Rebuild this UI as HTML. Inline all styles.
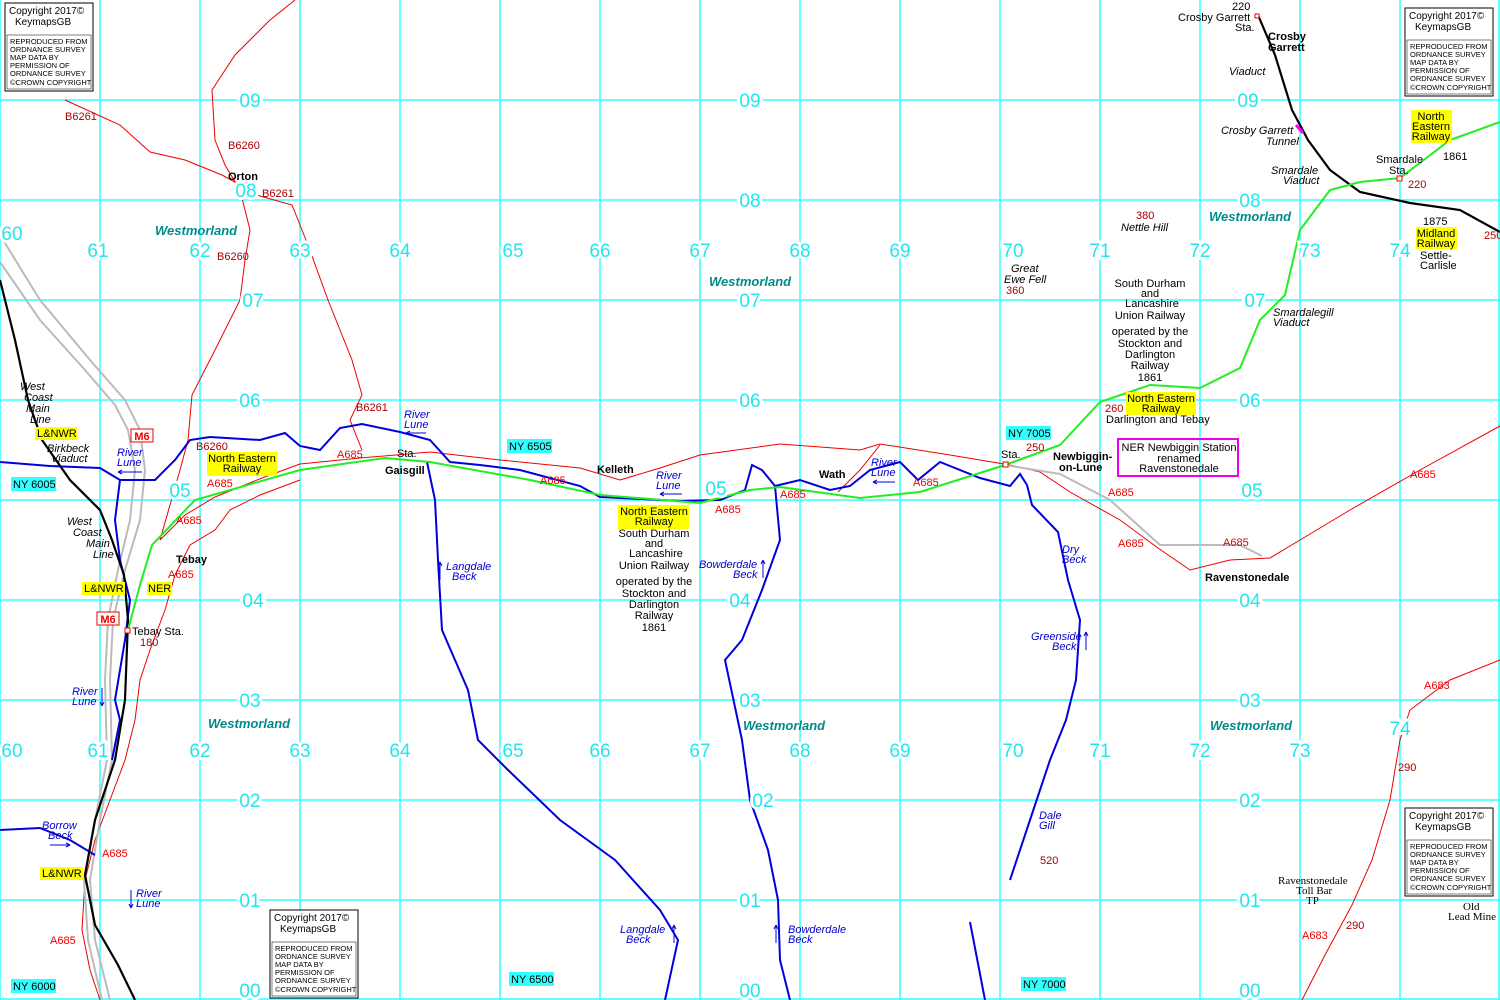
<!DOCTYPE html>
<html><head><meta charset="utf-8"><style>
html,body{margin:0;padding:0;background:#fff}
svg{display:block;font-family:"Liberation Sans",sans-serif}
.g{stroke:#33ffff;stroke-width:1.5}
.n{fill:#22e6ee;font-size:19px;paint-order:stroke;stroke:#fff;stroke-width:6px}
.r{fill:#e00;font-size:11px}
.dr{fill:#a00;font-size:11px}
.k{fill:#000;font-size:11px}
.b{fill:#000;font-size:11px;font-weight:bold}
.i{fill:#000;font-size:11px;font-style:italic}
.bl{fill:#0000cc;font-size:11px;font-style:italic}
.w{fill:#008b8b;font-size:13px;font-weight:bold;font-style:italic}
.ys{fill:#ffff00}
.cy{fill:#33ffff}
.c{font-size:10px;fill:#000}
.cs{font-size:7.5px;fill:#000}
</style></head><body>
<svg width="1500" height="1000" viewBox="0 0 1500 1000" xmlns="http://www.w3.org/2000/svg">
<rect width="1500" height="1000" fill="#fff"/>
<g class="g">
<line x1="0" y1="0" x2="0" y2="1000"/><line x1="100" y1="0" x2="100" y2="1000"/><line x1="200" y1="0" x2="200" y2="1000"/><line x1="300" y1="0" x2="300" y2="1000"/><line x1="400" y1="0" x2="400" y2="1000"/><line x1="500" y1="0" x2="500" y2="1000"/><line x1="600" y1="0" x2="600" y2="1000"/><line x1="700" y1="0" x2="700" y2="1000"/><line x1="800" y1="0" x2="800" y2="1000"/><line x1="900" y1="0" x2="900" y2="1000"/><line x1="1000" y1="0" x2="1000" y2="1000"/><line x1="1100" y1="0" x2="1100" y2="1000"/><line x1="1200" y1="0" x2="1200" y2="1000"/><line x1="1300" y1="0" x2="1300" y2="1000"/><line x1="1400" y1="0" x2="1400" y2="1000"/><line x1="1499" y1="0" x2="1499" y2="1000"/>
<line x1="0" y1="100" x2="1500" y2="100"/><line x1="0" y1="200" x2="1500" y2="200"/><line x1="0" y1="300" x2="1500" y2="300"/><line x1="0" y1="400" x2="1500" y2="400"/><line x1="0" y1="500" x2="1500" y2="500"/><line x1="0" y1="600" x2="1500" y2="600"/><line x1="0" y1="700" x2="1500" y2="700"/><line x1="0" y1="800" x2="1500" y2="800"/><line x1="0" y1="900" x2="1500" y2="900"/><line x1="0" y1="999" x2="1500" y2="999"/>
</g>
<!-- roads -->
<g fill="none" stroke="#e00" stroke-width="1">
<path d="M295,0 L270,20 L235,55 L212,90 L215,140 L225,165 L240,190 L250,230 L245,260 L240,300 L215,350 L192,395 L188,440 L180,470 L160,540"/>
<path d="M65,100 L120,125 L150,152 L185,160 L222,175 L260,196 L292,205 L308,245 L328,300 L352,360 L362,395 L350,420 L362,450"/>
<path d="M160,540 L185,515 L215,497 L262,478 L300,464 L360,458 L430,452 L500,460 L580,468 L620,480 L660,468 L700,455 L780,444 L860,450 L880,444 L950,455 L1010,465 L1040,472 L1070,492 L1120,520 L1158,548 L1190,570 L1230,560 L1270,558 L1300,540 L1350,510 L1420,470 L1500,426"/>
<path d="M300,480 L260,495 L230,510 L215,530 L190,545 L175,575 L165,610 L150,650 L140,680 L135,720 L125,760 L110,800 L95,840 L85,880 L82,930 L90,970 L100,1000"/>
<path d="M838,492 L860,470 L880,445"/>
<path d="M1500,660 L1450,680 L1410,710 L1400,740 L1390,800 L1372,860 L1352,905 L1325,955 L1302,1000"/>
</g>
<!-- old railway grey -->
<g fill="none" stroke="#bbb" stroke-width="2">
<path d="M0,235 L40,300 L90,360 L125,400 L140,430 L145,470 L140,520 L125,570 L113,620 L110,680 L112,760 L100,820 L90,880 L95,940 L110,1000"/>
<path d="M0,262 L40,320 L85,370 L115,405 L128,430 L135,470 L130,520 L118,570 L108,620 L105,680 L107,760 L95,820 L84,880 L88,940 L102,1000"/>
<path d="M1005,465 L1060,474 L1110,500 L1160,545 L1240,545 L1262,556"/>
</g>
<!-- rivers -->
<g fill="none" stroke="#0000dd" stroke-width="2">
<path d="M0,462 L50,466 L100,468 L120,480 L155,480 L175,460 L190,440 L210,437 L260,440 L285,433 L300,446 L320,450 L340,428 L362,424 L400,432 L430,440 L450,462 L480,465 L520,470 L580,486 L600,497 L680,501 L720,500 L745,490 L752,465 L762,470 L775,486 L800,480 L830,490 L850,486 L870,470 L900,462 L918,480 L940,462 L980,478 L1010,486 L1020,474 L1027,485"/>
<path d="M120,480 L115,520 L120,560 L130,600 L125,640 L115,700 L120,720 L112,760"/>
<path d="M427,462 L435,500 L438,560 L442,630 L468,690 L478,740 L508,770 L560,820 L615,860 L660,910 L678,940 L665,1000"/>
<path d="M775,486 L780,540 L762,590 L742,640 L725,660 L742,740 L750,800 L768,850 L778,900 L780,960 L790,1000"/>
<path d="M1027,485 L1032,505 L1058,532 L1068,580 L1080,620 L1076,680 L1066,720 L1050,760 L1030,820 L1010,880"/>
<path d="M970,922 L985,1000"/>
<path d="M0,830 L40,828 L70,840 L95,855"/>
</g>
<!-- railways -->
<g fill="none" stroke="#000" stroke-width="2.2">
<path d="M0,280 L15,340 L28,400 L42,440 L70,480 L100,510 L112,540 L124,575 L128,620 L125,700 L115,760 L95,820 L85,875 L95,925 L118,965 L135,1000"/>
<path d="M1258,15 L1275,55 L1292,110 L1308,140 L1330,170 L1360,192 L1410,203 L1460,210 L1500,232"/>
</g>
<path d="M128,630 L140,585 L152,545 L195,500 L300,470 L385,458 L430,462 L530,480 L600,495 L700,503 L750,490 L780,487 L860,498 L920,492 L1005,465 L1060,445 L1100,402 L1150,385 L1200,388 L1240,368 L1260,320 L1285,295 L1300,230 L1330,190 L1360,182 L1400,178 L1450,140 L1500,122" fill="none" stroke="#22ee22" stroke-width="2"/>
<line x1="1296" y1="125" x2="1303" y2="133" stroke="#f0f" stroke-width="3"/>
<rect x="125" y="628" width="5" height="5" fill="#fff" stroke="#e00"/>
<rect x="1003" y="462" width="5" height="5" fill="#fff" stroke="#e00"/>
<rect x="1397" y="176" width="5" height="5" fill="#fff" stroke="#e00"/>
<rect x="1255" y="14" width="4" height="4" fill="#fff" stroke="#e00"/>
<!-- grid numbers -->
<g class="n" text-anchor="middle">
<text x="250" y="107">09</text><text x="750" y="107">09</text><text x="1248" y="107">09</text>
<text x="246" y="197">08</text><text x="750" y="207">08</text><text x="1250" y="207">08</text>
<text x="253" y="307">07</text><text x="750" y="307">07</text><text x="1255" y="307">07</text>
<text x="250" y="407">06</text><text x="750" y="407">06</text><text x="1250" y="407">06</text>
<text x="180" y="497">05</text><text x="716" y="495">05</text><text x="1252" y="497">05</text>
<text x="253" y="607">04</text><text x="740" y="607">04</text><text x="1250" y="607">04</text>
<text x="250" y="707">03</text><text x="750" y="707">03</text><text x="1250" y="707">03</text>
<text x="250" y="807">02</text><text x="763" y="807">02</text><text x="1250" y="807">02</text>
<text x="250" y="907">01</text><text x="750" y="907">01</text><text x="1250" y="907">01</text>
<text x="250" y="997">00</text><text x="750" y="997">00</text><text x="1250" y="997">00</text>
<text x="12" y="240">60</text><text x="98" y="257">61</text><text x="200" y="257">62</text><text x="300" y="257">63</text><text x="400" y="257">64</text><text x="513" y="257">65</text><text x="600" y="257">66</text><text x="700" y="257">67</text><text x="800" y="257">68</text><text x="900" y="257">69</text><text x="1013" y="257">70</text><text x="1100" y="257">71</text><text x="1200" y="257">72</text><text x="1310" y="257">73</text><text x="1400" y="257">74</text>
<text x="12" y="757">60</text><text x="98" y="757">61</text><text x="200" y="757">62</text><text x="300" y="757">63</text><text x="400" y="757">64</text><text x="513" y="757">65</text><text x="600" y="757">66</text><text x="700" y="757">67</text><text x="800" y="757">68</text><text x="900" y="757">69</text><text x="1013" y="757">70</text><text x="1100" y="757">71</text><text x="1200" y="757">72</text><text x="1300" y="757">73</text><text x="1400" y="735">74</text>
</g>
<!-- NY boxes -->
<rect x="11" y="477" width="45" height="14" class="cy"/><text x="13" y="488" class="k">NY 6005</text>
<rect x="507" y="439" width="45" height="14" class="cy"/><text x="509" y="450" class="k">NY 6505</text>
<rect x="1006" y="426" width="45" height="14" class="cy"/><text x="1008" y="437" class="k">NY 7005</text>
<rect x="11" y="979" width="45" height="14" class="cy"/><text x="13" y="990" class="k">NY 6000</text>
<rect x="509" y="972" width="45" height="14" class="cy"/><text x="511" y="983" class="k">NY 6500</text>
<rect x="1021" y="977" width="45" height="14" class="cy"/><text x="1023" y="988" class="k">NY 7000</text>
<!-- yellow labels -->
<rect x="35" y="427" width="42" height="13" class="ys"/><text x="37" y="437" class="k">L&amp;NWR</text>
<rect x="207" y="452" width="70" height="24" class="ys"/><text x="242" y="462" class="k" text-anchor="middle">North Eastern</text><text x="242" y="472" class="k" text-anchor="middle">Railway</text>
<rect x="82" y="582" width="43" height="13" class="ys"/><text x="84" y="592" class="k">L&amp;NWR</text>
<rect x="147" y="582" width="25" height="13" class="ys"/><text x="148" y="592" class="k">NER</text>
<rect x="40" y="867" width="43" height="13" class="ys"/><text x="42" y="877" class="k">L&amp;NWR</text>
<rect x="618" y="505" width="71" height="24" class="ys"/><text x="654" y="515" class="k" text-anchor="middle">North Eastern</text><text x="654" y="525" class="k" text-anchor="middle">Railway</text>
<rect x="1126" y="392" width="70" height="23" class="ys"/><text x="1161" y="402" class="k" text-anchor="middle">North Eastern</text><text x="1161" y="412" class="k" text-anchor="middle">Railway</text>
<rect x="1411" y="110" width="41" height="33" class="ys"/><text x="1431" y="120" class="k" text-anchor="middle">North</text><text x="1431" y="130" class="k" text-anchor="middle">Eastern</text><text x="1431" y="140" class="k" text-anchor="middle">Railway</text>
<rect x="1416" y="227" width="41" height="22" class="ys"/><text x="1436" y="237" class="k" text-anchor="middle">Midland</text><text x="1436" y="247" class="k" text-anchor="middle">Railway</text>
<!-- M6 -->
<rect x="131" y="429" width="22" height="13" fill="#fff" stroke="#e00"/><text x="142" y="440" font-size="11" font-weight="bold" fill="#e00" text-anchor="middle">M6</text>
<rect x="97" y="612" width="22" height="13" fill="#fff" stroke="#e00"/><text x="108" y="623" font-size="11" font-weight="bold" fill="#e00" text-anchor="middle">M6</text>
<!-- road labels -->
<text x="65" y="120" class="dr">B6261</text><text x="228" y="149" class="dr">B6260</text><text x="262" y="197" class="dr">B6261</text><text x="217" y="260" class="dr">B6260</text>
<text x="356" y="411" class="dr">B6261</text><text x="196" y="450" class="dr">B6260</text>
<text x="207" y="487" class="r">A685</text><text x="176" y="524" class="r">A685</text><text x="168" y="578" class="r">A685</text>
<text x="337" y="458" class="r">A685</text><text x="540" y="484" class="r">A685</text><text x="715" y="513" class="r">A685</text><text x="780" y="498" class="r">A685</text><text x="913" y="486" class="r">A685</text>
<text x="1108" y="496" class="r">A685</text><text x="1118" y="547" class="r">A685</text><text x="1223" y="546" class="r">A685</text><text x="1410" y="478" class="r">A685</text>
<text x="1424" y="689" class="r">A683</text><text x="1302" y="939" class="r">A683</text><text x="102" y="857" class="r">A685</text><text x="50" y="944" class="r">A685</text>
<text x="1484" y="239" class="dr">250</text>
<!-- place labels -->
<text x="228" y="180" class="b">Orton</text><text x="176" y="563" class="b">Tebay</text><text x="385" y="474" class="b">Gaisgill</text><text x="597" y="473" class="b">Kelleth</text><text x="819" y="478" class="b">Wath</text>
<text x="1053" y="460" class="b">Newbiggin-</text><text x="1059" y="471" class="b">on-Lune</text>
<text x="1205" y="581" class="b">Ravenstonedale</text>
<text x="1268" y="40" class="b">Crosby</text><text x="1268" y="51" class="b">Garrett</text>
<text x="397" y="457" class="k">Sta.</text><text x="1001" y="458" class="k">Sta.</text>
<text x="132" y="635" class="k">Tebay Sta.</text><text x="140" y="646" class="dr">180</text>
<text x="1026" y="451" class="dr">250</text><text x="1105" y="412" class="dr">260</text>
<text x="1106" y="423" class="k">Darlington and Tebay</text>
<text x="1232" y="10" class="k">220</text><text x="1178" y="21" class="k">Crosby Garrett</text><text x="1235" y="31" class="k">Sta.</text>
<text x="1376" y="163" class="k">Smardale</text><text x="1389" y="174" class="k">Sta.</text><text x="1408" y="188" class="dr">220</text>
<text x="1443" y="160" class="k">1861</text><text x="1423" y="225" class="k">1875</text><text x="1420" y="259" class="k">Settle-</text><text x="1420" y="269" class="k">Carlisle</text>
<text x="1136" y="219" class="dr">380</text><text x="1121" y="231" class="i">Nettle Hill</text>
<text x="1011" y="272" class="i">Great</text><text x="1004" y="283" class="i">Ewe Fell</text><text x="1006" y="294" class="dr">360</text>
<text x="1040" y="864" class="dr">520</text><text x="1346" y="929" class="dr">290</text><text x="1398" y="771" class="dr">290</text>
<text x="1278" y="884" class="k" font-family="Liberation Serif">Ravenstonedale</text><text x="1296" y="894" class="k" font-family="Liberation Serif">Toll Bar</text><text x="1306" y="904" class="k" font-family="Liberation Serif">TP</text>
<text x="1463" y="910" class="k" font-family="Liberation Serif">Old</text><text x="1448" y="920" class="k" font-family="Liberation Serif">Lead Mine</text>
<g text-anchor="middle" class="k">
<text x="1150" y="287">South Durham</text><text x="1150" y="297">and</text><text x="1152" y="307">Lancashire</text><text x="1150" y="319">Union Railway</text>
<text x="1150" y="335">operated by the</text><text x="1150" y="347">Stockton and</text><text x="1150" y="358">Darlington</text><text x="1150" y="369">Railway</text><text x="1150" y="381">1861</text>
<text x="654" y="537">South Durham</text><text x="654" y="547">and</text><text x="656" y="557">Lancashire</text><text x="654" y="569">Union Railway</text>
<text x="654" y="585">operated by the</text><text x="654" y="597">Stockton and</text><text x="654" y="608">Darlington</text><text x="654" y="619">Railway</text><text x="654" y="631">1861</text>
</g>
<rect x="1118" y="439" width="120" height="37" fill="none" stroke="#e0e" stroke-width="2"/>
<g text-anchor="middle" class="k"><text x="1179" y="451">NER Newbiggin Station</text><text x="1179" y="462">renamed</text><text x="1179" y="472">Ravenstonedale</text></g>
<!-- italic labels -->
<text x="20" y="390" class="i">West</text><text x="24" y="401" class="i">Coast</text><text x="26" y="412" class="i">Main</text><text x="30" y="423" class="i">Line</text>
<text x="47" y="452" class="i">Birkbeck</text><text x="51" y="462" class="i">Viaduct</text>
<text x="67" y="525" class="i">West</text><text x="73" y="536" class="i">Coast</text><text x="86" y="547" class="i">Main</text><text x="93" y="558" class="i">Line</text>
<text x="1229" y="75" class="i">Viaduct</text><text x="1221" y="134" class="i">Crosby Garrett</text><text x="1266" y="145" class="i">Tunnel</text>
<text x="1271" y="174" class="i">Smardale</text><text x="1283" y="184" class="i">Viaduct</text>
<text x="1273" y="316" class="i">Smardalegill</text><text x="1273" y="326" class="i">Viaduct</text>
<g class="bl">
<text x="117" y="456">River</text><text x="117" y="466">Lune</text>
<text x="404" y="418">River</text><text x="404" y="428">Lune</text>
<text x="656" y="479">River</text><text x="656" y="489">Lune</text>
<text x="871" y="466">River</text><text x="871" y="476">Lune</text>
<text x="72" y="695">River</text><text x="72" y="705">Lune</text>
<text x="136" y="897">River</text><text x="136" y="907">Lune</text>
<text x="42" y="829">Borrow</text><text x="48" y="839">Beck</text>
<text x="446" y="570">Langdale</text><text x="452" y="580">Beck</text>
<text x="699" y="568">Bowderdale</text><text x="733" y="578">Beck</text>
<text x="1062" y="553">Dry</text><text x="1062" y="563">Beck</text>
<text x="1031" y="640">Greenside</text><text x="1052" y="650">Beck</text>
<text x="1039" y="819">Dale</text><text x="1039" y="829">Gill</text>
<text x="620" y="933">Langdale</text><text x="626" y="943">Beck</text>
<text x="788" y="933">Bowderdale</text><text x="788" y="943">Beck</text>
</g>
<g stroke="#0000dd" stroke-width="1" fill="none">
<path d="M118,472 h24 M118,472 l4,-2 M118,472 l4,2"/><path d="M406,433 h20 M406,433 l4,-2 M406,433 l4,2"/><path d="M660,494 h22 M660,494 l4,-2 M660,494 l4,2"/><path d="M873,482 h22 M873,482 l4,-2 M873,482 l4,2"/>
<path d="M440,562 v18 M440,562 l-2,4 M440,562 l2,4"/><path d="M763,560 v18 M763,560 l-2,4 M763,560 l2,4"/><path d="M1086,632 v18 M1086,632 l-2,4 M1086,632 l2,4"/><path d="M674,925 v18 M674,925 l-2,4 M674,925 l2,4"/><path d="M776,925 v18 M776,925 l-2,4 M776,925 l2,4"/>
<path d="M102,688 v18 M102,706 l-2,-4 M102,706 l2,-4"/><path d="M131,890 v18 M131,908 l-2,-4 M131,908 l2,-4"/><path d="M50,845 h20 M70,845 l-4,-2 M70,845 l-4,2"/>
</g>
<!-- Westmorland -->
<text x="155" y="235" class="w">Westmorland</text><text x="709" y="286" class="w">Westmorland</text><text x="1209" y="221" class="w">Westmorland</text>
<text x="208" y="728" class="w">Westmorland</text><text x="743" y="730" class="w">Westmorland</text><text x="1210" y="730" class="w">Westmorland</text>
<!-- copyright boxes -->
<g>
<rect x="5" y="3" width="88" height="88" fill="#fff" stroke="#000"/><text x="9" y="14" class="c">Copyright 2017©</text><text x="15" y="25" class="c">KeymapsGB</text><rect x="7" y="35" width="84" height="54" fill="none" stroke="#000" stroke-width=".5"/><text x="10" y="44" class="cs">REPRODUCED FROM</text><text x="10" y="52" class="cs">ORDNANCE SURVEY</text><text x="10" y="60" class="cs">MAP DATA BY</text><text x="10" y="68" class="cs">PERMISSION OF</text><text x="10" y="76" class="cs">ORDNANCE SURVEY</text><text x="10" y="85" class="cs">©CROWN COPYRIGHT</text>
</g>
<g transform="translate(1400,5)">
<rect x="5" y="3" width="88" height="88" fill="#fff" stroke="#000"/><text x="9" y="14" class="c">Copyright 2017©</text><text x="15" y="25" class="c">KeymapsGB</text><rect x="7" y="35" width="84" height="54" fill="none" stroke="#000" stroke-width=".5"/><text x="10" y="44" class="cs">REPRODUCED FROM</text><text x="10" y="52" class="cs">ORDNANCE SURVEY</text><text x="10" y="60" class="cs">MAP DATA BY</text><text x="10" y="68" class="cs">PERMISSION OF</text><text x="10" y="76" class="cs">ORDNANCE SURVEY</text><text x="10" y="85" class="cs">©CROWN COPYRIGHT</text>
</g>
<g transform="translate(1400,805)">
<rect x="5" y="3" width="88" height="88" fill="#fff" stroke="#000"/><text x="9" y="14" class="c">Copyright 2017©</text><text x="15" y="25" class="c">KeymapsGB</text><rect x="7" y="35" width="84" height="54" fill="none" stroke="#000" stroke-width=".5"/><text x="10" y="44" class="cs">REPRODUCED FROM</text><text x="10" y="52" class="cs">ORDNANCE SURVEY</text><text x="10" y="60" class="cs">MAP DATA BY</text><text x="10" y="68" class="cs">PERMISSION OF</text><text x="10" y="76" class="cs">ORDNANCE SURVEY</text><text x="10" y="85" class="cs">©CROWN COPYRIGHT</text>
</g>
<g transform="translate(265,907)">
<rect x="5" y="3" width="88" height="88" fill="#fff" stroke="#000"/><text x="9" y="14" class="c">Copyright 2017©</text><text x="15" y="25" class="c">KeymapsGB</text><rect x="7" y="35" width="84" height="54" fill="none" stroke="#000" stroke-width=".5"/><text x="10" y="44" class="cs">REPRODUCED FROM</text><text x="10" y="52" class="cs">ORDNANCE SURVEY</text><text x="10" y="60" class="cs">MAP DATA BY</text><text x="10" y="68" class="cs">PERMISSION OF</text><text x="10" y="76" class="cs">ORDNANCE SURVEY</text><text x="10" y="85" class="cs">©CROWN COPYRIGHT</text>
</g>
</svg>
</body></html>
